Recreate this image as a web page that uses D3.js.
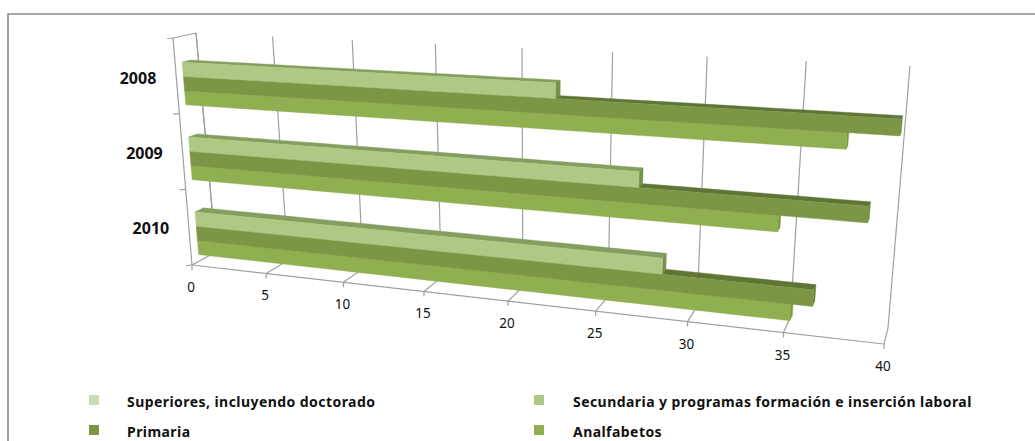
<!DOCTYPE html>
<html>
<head>
<meta charset="utf-8">
<script src="https://cdn.jsdelivr.net/npm/d3@7"></script>
<style>
  html, body { margin: 0; padding: 0; background: #fff; }
  svg { display: block; }
  text { font-family: "Noto Sans", "Open Sans", sans-serif; fill: #111; }
</style>
</head>
<body>
<svg id="chart" width="1035" height="441"></svg>
<script>
// Education level shares by year, drawn as 3D clustered horizontal bars.
const years = ["2008", "2009", "2010"];
const seriesNames = [
  "Superiores, incluyendo doctorado",
  "Secundaria y programas formación e inserción laboral",
  "Primaria",
  "Analfabetos"
];
const superiores = [0, 0, 0];
const secundaria = [22.4, 27.0, 28.4];
const primaria = [39.9, 38.7, 36.3];
const analfabetos = [37.4, 34.3, 35.2];
const valueTicks = [0, 5, 10, 15, 20, 25, 30, 35, 40];

const seriesValues = [superiores, secundaria, primaria, analfabetos];
const legendColors = ["#CCDCB8", "#AFC985", "#7C9543", "#90B050"];
const frontColors = ["#CCDCB8", "#AFC985", "#7D9646", "#8FAF50"];
const topColors = ["#A3B38F", "#859E5F", "#5F7536", "#6F8A3C"];
const sideColors = ["#A3B38F", "#76904E", "#688038", "#7A9741"];

const svg = d3.select("#chart");

// Chart frame: the top and left edges run off the page.
svg.append("path").attr("d", "M8,441V14H1035").attr("fill", "none")
  .attr("stroke", "#8a8a8a").attr("stroke-width", 1.6);

// Normalised plot coordinates: value across, category up, depth into the box.
const uScale = d3.scaleLinear().domain([0, 40]).range([0, 1]);
const foreshorten = 1.19;
const warp = u => u / (u + foreshorten * (1 - u));
const vBand = d3.scaleBand().domain(years.slice().reverse()).range([-0.011, 0.989])
  .paddingInner(0.24).paddingOuter(0.12);
const seriesBand = d3.scaleBand().domain(seriesNames).range([vBand.bandwidth(), 0]);

// Screen positions of the eight corners of the plot box.
const box = {
  front: { bl: [192, 265], br: [884, 344], tl: [173, 38], tr: [906, 74] },
  back:  { bl: [216, 252], br: [888, 328], tl: [196, 33], tr: [910, 66] }
};
const mix = (a, b, t) => a + (b - a) * t;
function project(value, v, d) {
  const u = warp(uScale(value));
  return [0, 1].map(i => {
    const fb = mix(box.front.bl[i], box.front.br[i], u);
    const ft = mix(box.front.tl[i], box.front.tr[i], u);
    const bb = mix(box.back.bl[i], box.back.br[i], u);
    const bt = mix(box.back.tl[i], box.back.tr[i], u);
    return mix(mix(fb, ft, v), mix(bb, bt, v), d);
  });
}
const line = d3.line();
const gridColor = "#a0a0a0";

const pathLine = (g, pts, w) => g.append("path").attr("d", line(pts))
  .attr("fill", "none").attr("stroke", gridColor).attr("stroke-width", w || 1.2);

// Walls: gridlines on the back wall and floor, plus the frame edges.
const walls = svg.append("g");
valueTicks.forEach(t => {
  pathLine(walls, [project(t, 0, 1), project(t, 1, 1)]);
  pathLine(walls, [project(t, 0, 0), project(t, 0, 1)]);
  const p = project(t, 0, 0);
  pathLine(walls, [p, [p[0], p[1] + 5]]);
});
pathLine(walls, [project(0, 0, 0), project(40, 0, 0)]);
pathLine(walls, [project(0, 0, 1), project(0, 1, 1)]);
pathLine(walls, [project(0, 1, 0), project(0, 1, 1)]);
pathLine(walls, [project(0, 0, 0), project(0, 1, 0)]);
d3.range(0, years.length + 1).forEach(i => {
  const p = project(0, i / years.length, 0);
  pathLine(walls, [p, [p[0] - 6, p[1] + 0.5]]);
});

// Bars: lowest series first so each upper bar sits over the top face below it.
const barD0 = 0.3, barD1 = 0.66;
const bars = svg.append("g");
const face = (pts, fill) => bars.append("path").attr("d", line(pts) + "Z")
  .attr("fill", fill).attr("stroke", fill).attr("stroke-width", 0.4);

years.forEach((year, yi) => {
  seriesNames.slice().reverse().forEach(name => {
    const si = seriesNames.indexOf(name);
    const value = seriesValues[si][yi];
    if (value <= 0) return;
    const v0 = vBand(year) + seriesBand(name);
    const v1 = v0 + seriesBand.bandwidth();
    const steps = d3.range(0, 1.001, 0.05).map(t => t * value);
    const along = (v, d) => steps.map(x => project(x, v, d));
    face(along(v1, barD0).concat(along(v1, barD1).reverse()), topColors[si]);
    face([project(value, v0, barD0), project(value, v1, barD0), project(value, v1, barD1), project(value, v0, barD1)], sideColors[si]);
    face(along(v0, barD0).concat(along(v1, barD0).reverse()), frontColors[si]);
  });
});

// Value labels sit below the front floor edge.
valueTicks.forEach(t => {
  const p = project(t, 0, 0);
  svg.append("text").attr("x", p[0] - 1).attr("y", p[1] + 27)
    .attr("text-anchor", "middle").attr("font-size", 13.5).text(t);
});

// Year labels beside the left edge.
years.forEach(year => {
  const p = project(0, vBand(year) + vBand.bandwidth() / 2, 0.3);
  svg.append("text").attr("x", p[0] - 27).attr("y", p[1] + 8)
    .attr("text-anchor", "end").attr("font-size", 16).attr("font-weight", 700).text(year);
});

// Two-column legend.
const legendX = d3.scalePoint().domain([0, 1]).range([89, 534]);
const legendY = d3.scalePoint().domain([0, 1]).range([395, 425]);
seriesNames.forEach((name, i) => {
  const col = i % 2, row = Math.floor(i / 2);
  svg.append("rect").attr("x", legendX(col)).attr("y", legendY(row))
    .attr("width", 10).attr("height", 10).attr("fill", legendColors[i]);
  svg.append("text").attr("x", legendX(col) + (col ? 39 : 38)).attr("y", legendY(row) + 11.5)
    .attr("font-size", 14).attr("font-weight", 700).attr("letter-spacing", 0.44).text(name);
});
</script>
</body>
</html>
